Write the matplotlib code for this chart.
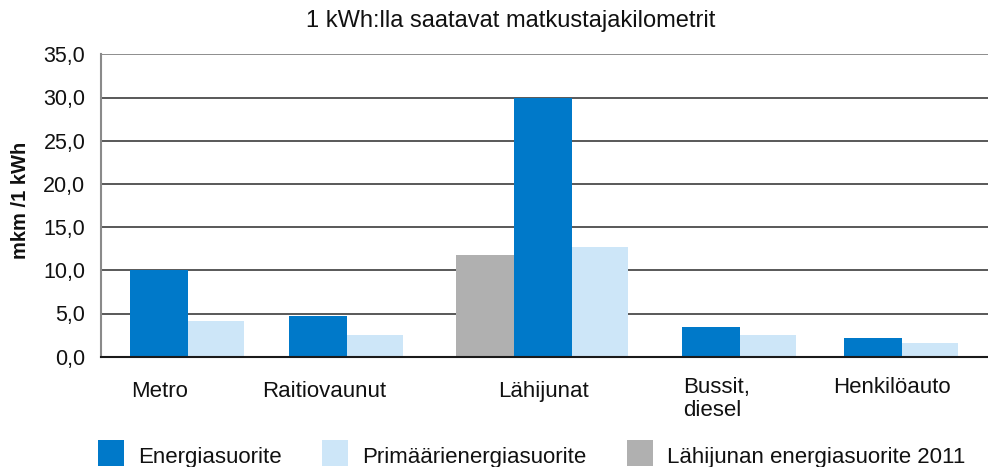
import numpy as np
import matplotlib
matplotlib.use("Agg")
import matplotlib.pyplot as plt
from matplotlib.patches import Rectangle
from matplotlib.ticker import FuncFormatter

# data
categories = ["Metro", "Raitiovaunut", "Lähijunat", "Bussit,\ndiesel", "Henkilöauto"]
energia = [10.0, 4.7, 30.0, 3.4, 2.2]
primaari = [4.1, 2.5, 12.7, 2.5, 1.6]
lahijuna_2011 = 11.8
series_names = ["Energiasuorite", "Primäärienergiasuorite", "Lähijunan energiasuorite 2011"]
title = "1 kWh:lla saatavat matkustajakilometrit"
ylabel = "mkm /1 kWh"

# colours
BLUE = "#0079c9"
LIGHT = "#cde6f8"
GRAY = "#b0b0b0"

W, H = 988, 467
plt.rcParams['font.family'] = ['Liberation Sans', 'DejaVu Sans']

fig = plt.figure(figsize=(W / 100, H / 100), dpi=100)
# axes box in pixels: left spine 100.7, bottom 356.7, top 54.3, right edge 988
ax = fig.add_axes([100.7 / W, 1 - 356.7 / H, (W - 100.7) / W, (356.7 - 54.3) / H])

# layout: left edge of the dark blue bar in each group (one unit = one bar width)
blue_left = np.array([0.505, 3.247, 7.126, 10.022, 12.816])
lw_light = 0.966

ax.bar(blue_left, energia, width=1.0, align='edge', color=BLUE, zorder=3)
ax.bar(blue_left + 1.0, primaari, width=lw_light, align='edge', color=LIGHT, zorder=3)
ax.bar(blue_left[2] - 1.0, lahijuna_2011, width=1.0, align='edge', color=GRAY, zorder=3)

ax.set_xlim(0, (W - 100.7) / 58)
ax.set_ylim(0, 35)
ax.set_yticks(np.arange(0, 36, 5))
ax.yaxis.set_major_formatter(FuncFormatter(lambda v, p: f"{v:.1f}".replace(".", ",")))
ax.tick_params(axis='y', length=0, pad=11, labelsize=15.5, labelcolor='#111111')
ax.set_xticks([])

ax.yaxis.grid(True, color='#3c3c3c', linewidth=1.2, zorder=0)
ax.set_axisbelow(True)
gl = ax.get_ygridlines()
gl[-1].set_color('#7a7a7a')

for s in ['top', 'right']:
    ax.spines[s].set_visible(False)
ax.spines['left'].set_color('#8a8a8a')
ax.spines['left'].set_linewidth(1.5)
ax.spines['bottom'].set_color('#1a1a1a')
ax.spines['bottom'].set_linewidth(1.5)
ax.spines['bottom'].set_zorder(4)

# category labels (pixel layout: x, first baseline, alignment)
label_px = [(159.5, 397, 'center'), (324, 397, 'center'), (543.6, 397, 'center'),
            (682.7, 393, 'left'), (891.5, 393, 'center')]
for name, (px, py, ha) in zip(categories, label_px):
    for i, line in enumerate(name.split("\n")):
        fig.text(px / W, 1 - (py + 23 * i) / H, line, ha=ha, va='baseline',
                 fontsize=16, color='#111111')

fig.text(511 / W, 1 - 27 / H, title, ha='center', va='baseline', fontsize=17, color='#111111')
fig.text(20 / W, 1 - 200.7 / H, ylabel, rotation=90, ha='center', va='center',
         fontsize=14.5, fontweight='bold', color='#111111')

# legend
leg_px = [98, 322, 627]
for name, col, px in zip(series_names, [BLUE, LIGHT, GRAY], leg_px):
    fig.add_artist(Rectangle((px / W, 1 - 466 / H), 26 / W, 26 / H,
                             transform=fig.transFigure, color=col, lw=0))
    fig.text((px + 40) / W, 1 - 463 / H, name, ha='left', va='baseline',
             fontsize=16, color='#111111')

fig.savefig("out.png", dpi=100)
